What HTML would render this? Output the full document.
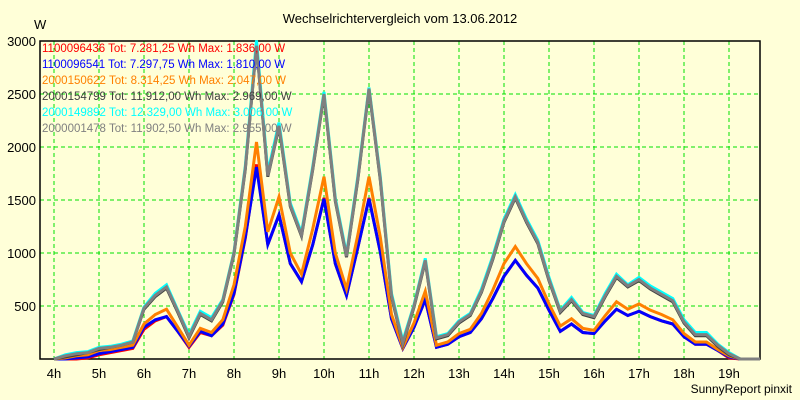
<!DOCTYPE html>
<html><head><meta charset="utf-8"><style>
body{margin:0;background:#ffffd8;}
svg{display:block;font-family:"Liberation Sans",sans-serif;}
</style></head><body>
<svg id="chart" width="800" height="400" viewBox="0 0 800 400">
<rect x="0" y="0" width="800" height="400" fill="#ffffd8"/>
<text x="400" y="23" text-anchor="middle" font-size="13" fill="#000">Wechselrichtervergleich vom 13.06.2012</text>
<text x="34" y="29" font-size="13" fill="#000">W</text>
<text x="792" y="393" text-anchor="end" font-size="12" fill="#000">SunnyReport pinxit</text>
<g id="grid"></g>
<g id="axes"></g>
<g id="series"></g>
<g id="legend"></g>
</svg>
<script>
const startHour = 4;
const stepHours = 0.25;
const hourTicks = [4,5,6,7,8,9,10,11,12,13,14,15,16,17,18,19];
const yTicks = [500,1000,1500,2000,2500,3000];
const seriesNames = ["1100096436","1100096541","2000150622","2000154799","2000149892","2000001478"];
const seriesTotals = ["7.281,25","7.297,75","8.314,25","11.912,00","12.329,00","11.902,50"];
const seriesMax = ["1.836,00","1.810,00","2.047,00","2.969,00","3.006,00","2.955,00"];
const seriesColors = ["#ff0000","#0000ff","#ff8000","#404040","#00ffff","#808080"];
const red = [0,0,0,10,40,60,80,100,280,360,400,260,110,250,220,320,610,1140,1836,1080,1360,900,730,1080,1520,900,600,1050,1520,1010,380,100,300,560,110,140,210,250,380,570,780,930,790,670,460,260,330,250,240,360,470,410,450,400,360,330,210,140,140,80,10,0];
const blue = [0,0,10,20,50,70,90,110,300,370,400,260,120,260,220,330,620,1150,1810,1080,1360,900,730,1080,1510,900,600,1050,1510,1010,380,100,300,560,110,140,210,250,380,570,780,930,790,670,460,260,330,250,240,360,470,410,450,400,360,330,210,140,140,80,20,0];
const orange = [0,10,30,40,80,90,110,130,330,420,470,300,130,290,250,370,700,1250,2047,1200,1530,1000,800,1230,1720,1000,660,1170,1720,1150,420,110,340,640,130,160,240,280,430,650,900,1060,900,760,520,310,380,290,270,410,540,470,520,460,420,370,240,160,160,90,30,0];
const black = [0,20,40,60,90,110,130,160,470,590,670,440,200,420,360,540,990,1790,2969,1720,2190,1440,1160,1790,2490,1490,960,1690,2540,1690,590,140,490,920,190,220,340,410,630,940,1290,1520,1290,1090,740,440,550,420,390,590,770,680,740,660,600,540,340,220,220,120,40,0];
const cyan = [0,40,60,70,110,120,140,170,490,620,700,460,230,450,390,560,1010,1820,3006,1760,2230,1470,1190,1820,2520,1520,990,1720,2560,1720,620,170,510,950,210,240,360,430,660,970,1320,1550,1320,1120,770,460,580,440,410,620,800,700,770,690,630,570,370,250,250,140,60,0];
const gray = [0,30,50,60,100,110,130,160,480,600,680,450,210,430,370,550,1000,1800,2955,1730,2200,1450,1170,1800,2500,1500,970,1700,2550,1700,600,150,500,930,200,230,350,420,640,950,1300,1530,1300,1100,750,450,560,430,400,600,780,690,750,670,610,550,350,230,230,130,50,0];
const allSeries = [red, blue, orange, black, cyan, gray];

const NS="http://www.w3.org/2000/svg";
const L=40,R=760,T=41,B=359;
function xScale(h){return 54+(h-4)*45;}
function yScale(v){return B-v*(B-T)/3000;}
function mk(tag,attrs,parent){const e=document.createElementNS(NS,tag);for(const k in attrs)e.setAttribute(k,attrs[k]);parent.appendChild(e);return e;}
const grid=document.getElementById('grid'),axes=document.getElementById('axes'),ser=document.getElementById('series'),leg=document.getElementById('legend');
yTicks.forEach(v=>{
  const y=yScale(v);
  const g=mk('line',{x1:L,x2:R,y1:y,y2:y,stroke:'#00e000','stroke-dasharray':'4,3','stroke-width':1},grid);
  
  
  const t=mk('text',{x:36,y:y+5,'text-anchor':'end','font-size':13,fill:'#000'},axes);
  t.textContent=v;
  
  
});
hourTicks.forEach(h=>{
  const x=xScale(h);
  const g=mk('line',{x1:x,x2:x,y1:T,y2:B,stroke:'#00e000','stroke-dasharray':'4,3','stroke-width':1},grid);
  
  
  const t=mk('text',{x:x,y:378,'text-anchor':'middle','font-size':13,fill:'#000'},axes);
  t.textContent=h+'h';
  
  
});
const frame=mk('rect',{x:L,y:T,width:R-L,height:B-T,fill:'none',stroke:'#000','stroke-width':1.5},axes);


allSeries.forEach((arr,i)=>{
  let d=arr.map((v,j)=>(j?'L':'M')+xScale(startHour+j*stepHours).toFixed(1)+','+yScale(v).toFixed(1)).join(' ');
  d+=' L'+(R)+','+B;
  const p=mk('path',{d:d,fill:'none',stroke:seriesColors[i],'stroke-width':3,'stroke-linejoin':'miter'},ser);
  
  
});
seriesNames.forEach((n,i)=>{
  const t=mk('text',{x:42,y:52+i*16,'font-size':11.5,fill:seriesColors[i]},leg);
  t.textContent=n+'  Tot: '+seriesTotals[i]+' Wh  Max: '+seriesMax[i]+' W';
  
  
});
</script>
</body></html>
